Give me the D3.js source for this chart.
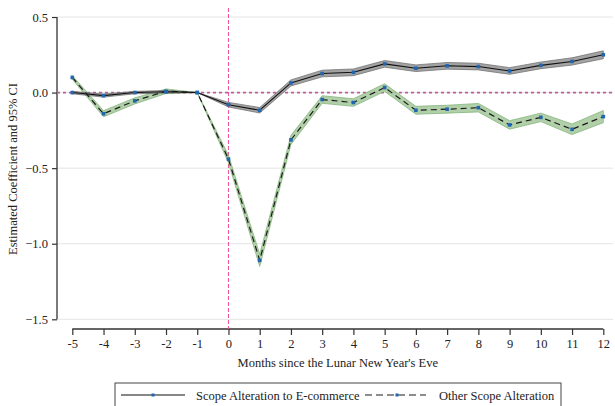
<!DOCTYPE html>
<html>
<head>
<meta charset="utf-8">
<script src="https://cdn.jsdelivr.net/npm/d3@7"></script>
<style>
  body { margin: 0; background: #fff; }
  svg text { font-family: "Liberation Serif", "Times New Roman", serif; fill: #222; }
</style>
</head>
<body>
<div id="vis"></div>
<script>
// months relative to the Lunar New Year's Eve
var months = [-5, -4, -3, -2, -1, 0, 1, 2, 3, 4, 5, 6, 7, 8, 9, 10, 11, 12];
var yTicks = [0.5, 0.0, -0.5, -1.0, -1.5];

// Scope Alteration to E-commerce
var ecomCoef = [0.0, -0.02, 0.0, 0.005, 0.0, -0.08, -0.117, 0.064, 0.126, 0.134, 0.19, 0.161, 0.177, 0.172, 0.143, 0.18, 0.206, 0.25];
var ecomCI   = [0.008, 0.01, 0.008, 0.008, 0.0, 0.015, 0.018, 0.02, 0.022, 0.022, 0.022, 0.022, 0.022, 0.022, 0.022, 0.022, 0.024, 0.026];

// Other Scope Alteration
var otherCoef = [0.1, -0.14, -0.055, 0.009, 0.0, -0.44, -1.11, -0.313, -0.046, -0.066, 0.033, -0.117, -0.11, -0.1, -0.214, -0.164, -0.243, -0.159];
var otherCI   = [0.012, 0.02, 0.02, 0.015, 0.0, 0.025, 0.04, 0.03, 0.025, 0.025, 0.025, 0.026, 0.026, 0.028, 0.028, 0.028, 0.035, 0.04];

var svg = d3.select('#vis')
    .append('svg')
    .attr('width', 615)
    .attr('height', 406);

var xScale = d3.scaleLinear().domain([-5, 12]).range([72.3, 603.3]);
var yScale = d3.scaleLinear().domain([-1.5, 0.5]).range([319.3, 17]);
var axisX = 57, axisY = 329;

// gridlines
svg.append('g').selectAll('line')
    .data(yTicks)
    .enter().append('line')
    .attr('x1', axisX).attr('x2', 613)
    .attr('y1', function(d) { return yScale(d); })
    .attr('y2', function(d) { return yScale(d); })
    .attr('stroke', '#e4e4e4')
    .attr('stroke-width', 1);

// y axis
var yAxis = d3.axisLeft(yScale)
    .tickValues(yTicks)
    .tickSize(5)
    .tickFormat(d3.format('.1f'));
var gy = svg.append('g')
    .attr('transform', 'translate(' + axisX + ',0)')
    .call(yAxis);
gy.select('.domain').remove();
gy.append('line')
    .attr('x1', 0).attr('x2', 0)
    .attr('y1', yScale(0.5)).attr('y2', yScale(-1.5))
    .attr('stroke', '#333').attr('stroke-width', 1.3);
gy.selectAll('.tick line').attr('stroke', '#333').attr('stroke-width', 1.2);
gy.selectAll('.tick text')
    .attr('x', -9)
    .style('font-size', '12.5px')
    .style('font-family', '"Liberation Serif", serif')
    .attr('fill', '#222')
    .text(function(d) { return d3.format('.1f')(d).replace('-', '-'); });

// x axis
var xAxis = d3.axisBottom(xScale)
    .tickValues(months)
    .tickSize(6)
    .tickFormat(d3.format('d'));
var gx = svg.append('g')
    .attr('transform', 'translate(0,' + axisY + ')')
    .call(xAxis);
gx.select('.domain').remove();
gx.append('line')
    .attr('x1', xScale(-5)).attr('x2', xScale(12))
    .attr('y1', 0).attr('y2', 0)
    .attr('stroke', '#333').attr('stroke-width', 1.3);
gx.selectAll('.tick line').attr('stroke', '#333').attr('stroke-width', 1.2);
gx.selectAll('.tick text')
    .attr('y', 10)
    .style('font-size', '12.5px')
    .style('font-family', '"Liberation Serif", serif')
    .attr('fill', '#222')
    .text(function(d) { return String(d).replace('-', '-'); });

// axis titles
svg.append('text')
    .attr('x', xScale(3.5))
    .attr('y', 367)
    .attr('text-anchor', 'middle')
    .style('font-size', '12.5px')
    .text("Months since the Lunar New Year's Eve");

svg.append('text')
    .attr('transform', 'translate(17,169)rotate(-90)')
    .attr('text-anchor', 'middle')
    .style('font-size', '12.5px')
    .text('Estimated Coefficient and 95% CI');

// reference lines
svg.append('line')
    .attr('x1', axisX).attr('x2', 613)
    .attr('y1', yScale(0)).attr('y2', yScale(0))
    .attr('stroke', '#c45a9c')
    .attr('stroke-width', 1.6)
    .attr('stroke-dasharray', '3,3');

svg.append('line')
    .attr('x1', xScale(0)).attr('x2', xScale(0))
    .attr('y1', 8).attr('y2', axisY)
    .attr('stroke', '#f0509a')
    .attr('stroke-width', 1)
    .attr('stroke-dasharray', '4,2');

// confidence bands
var band = function(coef, ci) {
    return d3.area()
        .x(function(d, i) { return xScale(months[i]); })
        .y0(function(d, i) { return yScale(coef[i] - ci[i]); })
        .y1(function(d, i) { return yScale(coef[i] + ci[i]); });
};

svg.append('path')
    .datum(otherCoef)
    .attr('d', band(otherCoef, otherCI))
    .attr('fill', '#a9cca0')
    .attr('stroke', '#7aad70')
    .attr('stroke-width', 0.8)
    .style('opacity', 0.9);

svg.append('path')
    .datum(ecomCoef)
    .attr('d', band(ecomCoef, ecomCI))
    .attr('fill', '#9a9a9a')
    .attr('stroke', '#666')
    .attr('stroke-width', 0.8)
    .style('opacity', 0.9);

// lines
var line = d3.line()
    .x(function(d, i) { return xScale(months[i]); })
    .y(function(d) { return yScale(d); });

svg.append('path')
    .datum(otherCoef)
    .attr('d', line)
    .attr('fill', 'none')
    .attr('stroke', '#1a1a1a')
    .attr('stroke-width', 1.2)
    .attr('stroke-dasharray', '6,4');

svg.append('path')
    .datum(ecomCoef)
    .attr('d', line)
    .attr('fill', 'none')
    .attr('stroke', '#111')
    .attr('stroke-width', 1.1);

// markers
var drawMarkers = function(coef) {
    svg.append('g').selectAll('rect')
        .data(coef)
        .enter().append('rect')
        .attr('x', function(d, i) { return xScale(months[i]) - 1.8; })
        .attr('y', function(d) { return yScale(d) - 1.8; })
        .attr('width', 3.6)
        .attr('height', 3.6)
        .attr('fill', '#2166b0');
};
drawMarkers(otherCoef);
drawMarkers(ecomCoef);

// legend
var legend = svg.append('g');
legend.append('rect')
    .attr('x', 115).attr('y', 383)
    .attr('width', 446).attr('height', 30)
    .attr('fill', '#fff')
    .attr('stroke', '#444')
    .attr('stroke-width', 1);

legend.append('line')
    .attr('x1', 121).attr('x2', 185)
    .attr('y1', 395).attr('y2', 395)
    .attr('stroke', '#111').attr('stroke-width', 1.1);
legend.append('rect')
    .attr('x', 151.5).attr('y', 393.5).attr('width', 3).attr('height', 3)
    .attr('fill', '#2166b0');
legend.append('text')
    .attr('x', 196).attr('y', 399.5)
    .style('font-size', '12.5px')
    .text('Scope Alteration to E-commerce');

legend.append('line')
    .attr('x1', 365).attr('x2', 426)
    .attr('y1', 395).attr('y2', 395)
    .attr('stroke', '#1a1a1a').attr('stroke-width', 1.2)
    .attr('stroke-dasharray', '7,4');
legend.append('rect')
    .attr('x', 395.5).attr('y', 393.5).attr('width', 3).attr('height', 3)
    .attr('fill', '#2166b0');
legend.append('text')
    .attr('x', 439).attr('y', 399.5)
    .style('font-size', '12.5px')
    .text('Other Scope Alteration');
</script>
</body>
</html>
